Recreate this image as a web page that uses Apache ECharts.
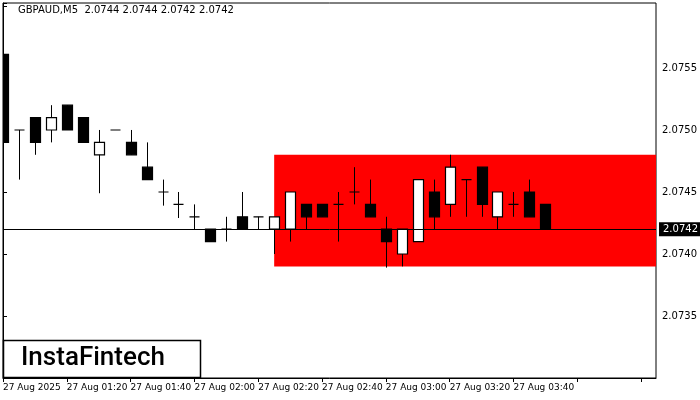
<!DOCTYPE html>
<html>
<head>
<meta charset="utf-8">
<script src="https://cdn.jsdelivr.net/npm/echarts@6/dist/echarts.min.js"></script>
<style>html,body{margin:0;padding:0;background:#fff}</style>
</head>
<body>
<div id="chart" style="width:700px;height:400px;"></div>
<script>
// 5-minute candles, 27 Aug 2025 from 01:00
var opens  = [2.07561,2.0750,2.0751,2.0750,2.0752,2.0751,2.0748,2.0750,2.0749,2.0747,2.0745,2.0744,2.0743,2.0742,2.0742,2.0743,2.0743,2.0742,2.0742,2.0744,2.0744,2.0744,2.0745,2.0744,2.0742,2.0740,2.0741,2.0745,2.0744,2.0746,2.0747,2.0743,2.0744,2.0745,2.0744];
var closes = [2.0749,2.0750,2.0749,2.0751,2.0750,2.0749,2.0749,2.0750,2.0748,2.0746,2.0745,2.0744,2.0743,2.0741,2.0742,2.0742,2.0743,2.0743,2.0745,2.0743,2.0743,2.0744,2.0745,2.0743,2.0741,2.0742,2.0746,2.0743,2.0747,2.0746,2.0744,2.0745,2.0744,2.0743,2.0742];
var lows   = [2.07449,2.0746,2.0748,2.0749,2.0750,2.0749,2.07449,2.0750,2.0748,2.0746,2.07439,2.07429,2.0742,2.0741,2.0741,2.0742,2.0742,2.0740,2.0741,2.0742,2.0743,2.0741,2.0744,2.0743,2.07389,2.0739,2.0741,2.0742,2.0743,2.0743,2.0743,2.0742,2.0743,2.0743,2.0742];
var highs  = [2.07561,2.0750,2.0751,2.0752,2.0752,2.0751,2.0750,2.0750,2.0750,2.0749,2.0746,2.0745,2.0744,2.0742,2.0743,2.0745,2.0743,2.0743,2.0745,2.0744,2.0744,2.0745,2.0747,2.0746,2.0743,2.0742,2.0746,2.0746,2.0748,2.0746,2.0747,2.0745,2.0745,2.0746,2.0744];
var timeLabels = ['27 Aug 2025','27 Aug 01:20','27 Aug 01:40','27 Aug 02:00','27 Aug 02:20','27 Aug 02:40','27 Aug 03:00','27 Aug 03:20','27 Aug 03:40'];
var boxTop = 2.0748, boxBottom = 2.0739, boxStart = 17;
var lastPrice = 2.0742;

var data = opens.map(function (o, i) { return [i, o, closes[i], lows[i], highs[i]]; });
var chart = echarts.init(document.getElementById('chart'));

chart.setOption({
    animation: false,
    grid: { left: 3, right: 42, top: 3, bottom: 22, show: true, borderColor: '#000', borderWidth: 1 },
    xAxis: {
        type: 'value', min: 0, max: 40.9375, interval: 4,
        axisLine: { lineStyle: { color: '#000' } },
        axisTick: { show: true, length: 4, lineStyle: { color: '#000' } },
        splitLine: { show: false },
        axisLabel: {
            color: '#000', fontSize: 9, fontFamily: 'DejaVu Sans', align: 'left', margin: 5,
            showMinLabel: true, showMaxLabel: false, hideOverlap: false,
            formatter: function (v) { return timeLabels[Math.round(v / 4)] || ''; }
        }
    },
    yAxis: {
        type: 'value', position: 'right', min: 2.0730, max: 2.076024, interval: 0.0005,
        axisLine: { show: true, lineStyle: { color: '#000' } },
        axisTick: { show: true, length: 4, lineStyle: { color: '#000' } },
        splitLine: { show: false },
        axisLabel: {
            color: '#000', fontSize: 10, fontFamily: 'DejaVu Sans', margin: 6,
            formatter: function (v) { return (v > 2.07305 && v < 2.0758) ? v.toFixed(4) : ''; }
        }
    },
    series: [{
        type: 'custom',
        data: data,
        encode: { x: 0, y: [1, 2, 3, 4] },
        clip: true,
        renderItem: function (params, api) {
            var x = api.value(0), o = api.value(1), c = api.value(2);
            var pL = api.coord([x, api.value(3)]), pH = api.coord([x, api.value(4)]);
            var pO = api.coord([x, o]), pC = api.coord([x, c]);
            var w = 10, top = Math.min(pO[1], pC[1]), h = Math.abs(pO[1] - pC[1]);
            var cx = Math.round(pO[0]) + 0.5;
            return {
                type: 'group',
                children: [
                    { type: 'line', shape: { x1: cx, y1: pH[1], x2: cx, y2: pL[1] }, style: { stroke: '#000', lineWidth: 1 } },
                    { type: 'rect', shape: { x: cx - w / 2, y: top, width: w, height: h },
                      style: { fill: c < o ? '#000' : '#fff', stroke: '#000', lineWidth: 1.2 } }
                ]
            };
        },
        markArea: {
            silent: true,
            itemStyle: { color: '#ff0000', opacity: 1 },
            data: [[{ coord: [boxStart, boxTop] }, { coord: [40.9375, boxBottom] }]]
        },
        markLine: {
            silent: true, symbol: 'none',
            lineStyle: { color: '#000', type: 'solid', width: 1 },
            label: {
                position: 'end', formatter: lastPrice.toFixed(4), color: '#fff',
                backgroundColor: '#000', padding: [2, 4], fontSize: 10, fontFamily: 'DejaVu Sans', distance: 3
            },
            data: [[{ coord: [0, lastPrice] }, { coord: [40.9375, lastPrice] }]]
        },
        z: 3
    }],
    graphic: [
        { type: 'text', left: 18, top: 5, style: { text: 'GBPAUD,M5  2.0744 2.0744 2.0742 2.0742', fill: '#000', font: '10px DejaVu Sans' } },
        { type: 'rect', shape: { x: 3.5, y: 340.5, width: 197, height: 37 }, style: { fill: '#fff', stroke: '#000', lineWidth: 1.5 }, z: 10 },
        { type: 'text', left: 21, top: 345, style: { text: 'InstaFintech', fill: '#000', font: '500 26px Roboto' }, z: 11 }
    ]
});
</script>
</body>
</html>
